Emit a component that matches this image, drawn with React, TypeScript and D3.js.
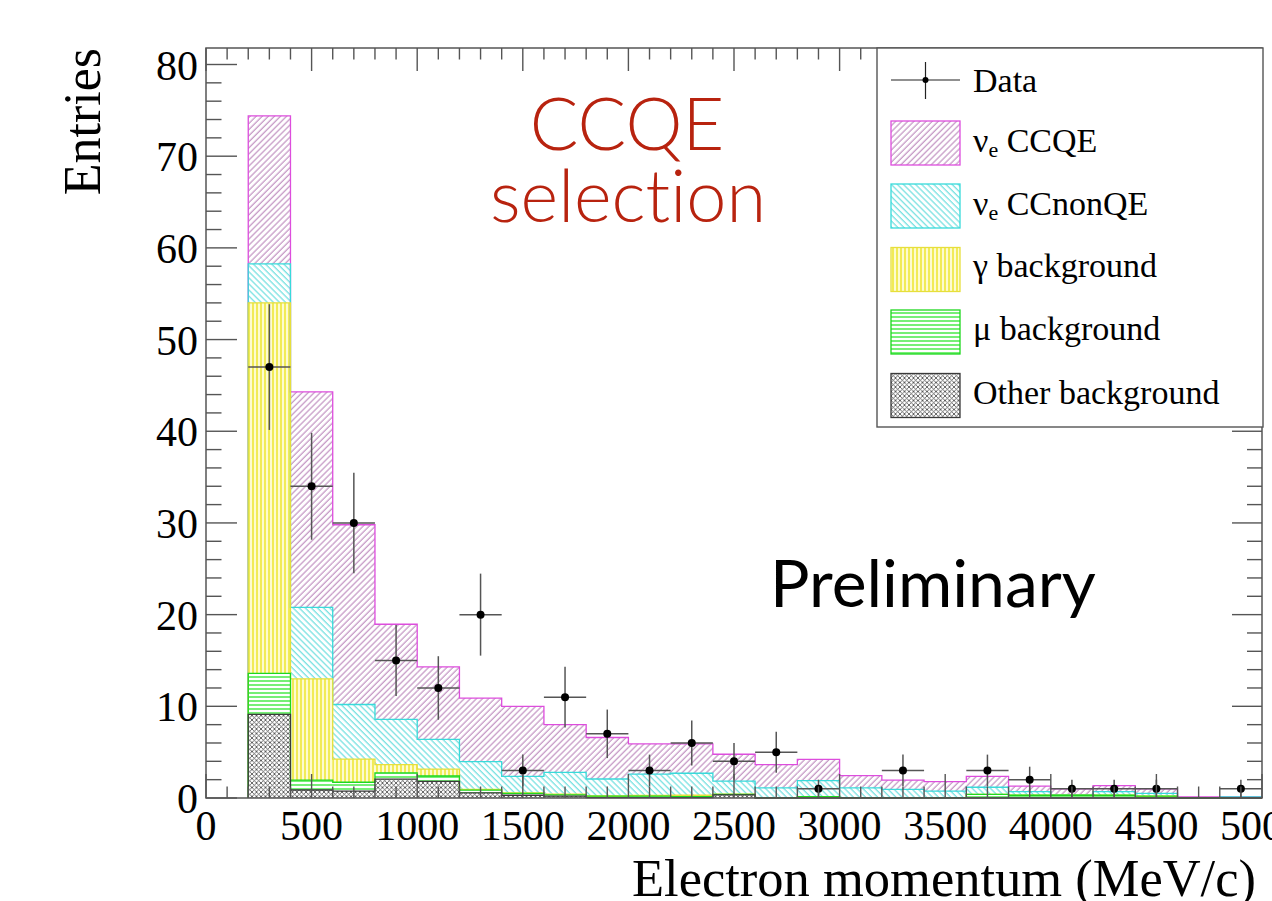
import React from "react";
import * as d3 from "d3";

// Electron momentum bins (lower edges, MeV/c), 200 MeV/c wide
const binLow = [200, 400, 600, 800, 1000, 1200, 1400, 1600, 1800, 2000, 2200, 2400,
  2600, 2800, 3000, 3200, 3400, 3600, 3800, 4000, 4200, 4400, 4600, 4800];
const binWidth = 200;

// Observed events per bin
const dataCounts = [47, 34, 30, 15, 12, 20, 3, 11, 7, 3, 6, 4, 5, 1, 0, 3, 0, 3, 2, 1, 1, 1, 0, 1];

// MC expectation per component (stacked bottom to top)
const otherBkg = [9.13, 0.87, 0.76, 2.05, 1.82, 0.55, 0.3, 0.2, 0.05, 0.05, 0.05, 0.35,
  0, 0, 0, 0, 0, 0, 0, 0, 0, 0, 0, 0];
const muBkg = [4.47, 1.08, 0.96, 0.7, 0.58, 0.3, 0.2, 0.15, 0.15, 0.15, 0.1, 0.05,
  0.05, 0.15, 0.05, 0.05, 0.05, 0.4, 0.3, 0.3, 0.3, 0.2, 0, 0];
const gammaBkg = [40.4, 11.05, 2.53, 0.9, 0.76, 0.1, 0.05, 0.07, 0.02, 0.08, 0.15, 0.02,
  0, 0, 0, 0, 0, 0, 0, 0, 0, 0, 0, 0];
const nueCCnonQE = [4.25, 7.8, 5.95, 4.93, 3.24, 3.01, 1.8, 2.38, 1.85, 2.32, 2.4, 1.43,
  1.05, 1.75, 1.05, 0.9, 0.71, 0.77, 0.39, 0.05, 0.39, 0.3, 0, 0.12];
const nueCCQE = [16.15, 23.5, 19.6, 10.37, 7.9, 6.94, 7.65, 5.2, 4.53, 3.3, 3.2, 2.92,
  2.55, 2.32, 1.35, 1.0, 1.02, 1.18, 0.61, 0.65, 0.66, 0.5, 0.12, 0];

const W = 1272;
const H = 901;
const X0 = 206, X1 = 1262, Y0 = 798, Y1 = 48;

const serif = "'Liberation Serif', 'Times New Roman', serif";
const sans = "Lato, 'Open Sans', sans-serif";

const layers = [
  { key: "other", values: otherBkg, fill: "url(#patOther)", stroke: "#3a3a3a" },
  { key: "mu", values: muBkg, fill: "url(#patMu)", stroke: "#1ed81e" },
  { key: "gamma", values: gammaBkg, fill: "url(#patGamma)", stroke: "#e6df3c" },
  { key: "nonqe", values: nueCCnonQE, fill: "url(#patNonQE)", stroke: "#38dada" },
  { key: "ccqe", values: nueCCQE, fill: "url(#patCCQE)", stroke: "#dd4ddd" },
];

export default function App() {
  const x = d3.scaleLinear().domain([0, 5000]).range([X0, X1]);
  const y = d3.scaleLinear().domain([0, 81.8]).range([Y0, Y1]);

  // cumulative stack
  const cum: number[][] = [];
  layers.forEach((l, k) => {
    cum.push(l.values.map((v, i) => (k === 0 ? 0 : cum[k - 1][i]) + v));
  });

  const stepPath = (tops: number[]) => {
    let p = `M${x(binLow[0])},${y(0)}`;
    tops.forEach((t, i) => {
      p += `L${x(binLow[i])},${y(t)}L${x(binLow[i] + binWidth)},${y(t)}`;
    });
    p += `L${x(binLow[binLow.length - 1] + binWidth)},${y(0)}`;
    return p;
  };

  const xMajor = d3.range(0, 5001, 500);
  const xMinor = d3.range(0, 5001, 100).filter((v) => v % 500 !== 0);
  const yMajor = d3.range(0, 81, 10);
  const yMinor = d3.range(0, 81.8, 2).filter((v) => v % 10 !== 0);

  const axisColor = "#555";

  // legend geometry
  const legX = 877, legY = 48, legW = 386, legH = 379;
  const boxX = 891, boxW = 69, boxH = 44;
  const rowBoxTop = [121, 184, 247.5, 310, 373.5];
  const legendRows = [
    { fill: "url(#patCCQE)", stroke: "#dd4ddd", label: "CCQE", nu: true, baseline: 152 },
    { fill: "url(#patNonQE)", stroke: "#38dada", label: "CCnonQE", nu: true, baseline: 215 },
    { fill: "url(#patGamma)", stroke: "#e6df3c", label: "γ background", nu: false, baseline: 277 },
    { fill: "url(#patMu)", stroke: "#1ed81e", label: "μ background", nu: false, baseline: 340 },
    { fill: "url(#patOther)", stroke: "#3a3a3a", label: "Other background", nu: false, baseline: 403.5 },
  ];

  const noLig = { fontVariantLigatures: "none" as const, fontFeatureSettings: "'liga' 0" };

  return (
    <svg width={W} height={H} style={{ position: "absolute", left: 0, top: 0, background: "#fff" }}>
      <defs>
        <pattern id="patCCQE" width="4.3" height="4.3" patternUnits="userSpaceOnUse" patternTransform="rotate(45)">
          <line x1="1" y1="0" x2="1" y2="4.3" stroke="#b57cb5" strokeWidth="1" />
        </pattern>
        <pattern id="patNonQE" width="4.3" height="4.3" patternUnits="userSpaceOnUse" patternTransform="rotate(-45)">
          <line x1="1" y1="0" x2="1" y2="4.3" stroke="#4fd8d8" strokeWidth="1" />
        </pattern>
        <pattern id="patGamma" width="4" height="4" patternUnits="userSpaceOnUse">
          <rect width="4" height="4" fill="#fdfbd0" />
          <line x1="1" y1="0" x2="1" y2="4" stroke="#f0ea4a" strokeWidth="1.8" />
        </pattern>
        <pattern id="patMu" width="4" height="4" patternUnits="userSpaceOnUse">
          <line x1="0" y1="1" x2="4" y2="1" stroke="#2be62b" strokeWidth="1.3" />
        </pattern>
        <pattern id="patOther" width="4.5" height="4.5" patternUnits="userSpaceOnUse">
          <path d="M0,0L4.5,4.5M4.5,0L0,4.5" stroke="#444" strokeWidth="0.8" fill="none" />
        </pattern>
      </defs>

      <rect width={W} height={H} fill="#fff" />

      {/* stacked MC fills */}
      {layers.map((l, k) =>
        l.values.map((v, i) => {
          const bottom = k === 0 ? 0 : cum[k - 1][i];
          const top = cum[k][i];
          if (top - bottom <= 0) return null;
          return (
            <rect
              key={`${l.key}-${i}`}
              x={x(binLow[i])}
              y={y(top)}
              width={x(binLow[i] + binWidth) - x(binLow[i])}
              height={y(bottom) - y(top)}
              fill={l.fill}
            />
          );
        })
      )}

      {/* stack outlines, total first so lower layers sit on top */}
      {layers.map((l, k) => ({ l, k })).reverse().map(({ l, k }) => (
        <path key={`o-${l.key}`} d={stepPath(cum[k])} fill="none" stroke={l.stroke} strokeWidth={1.3} />
      ))}

      {/* data with Poisson errors */}
      {dataCounts.map((n, i) => {
        if (n <= 0) return null;
        const cx = x(binLow[i] + binWidth / 2);
        const e = Math.sqrt(n);
        return (
          <g key={`d-${i}`}>
            <line x1={x(binLow[i])} x2={x(binLow[i] + binWidth)} y1={y(n)} y2={y(n)} stroke="#555" strokeWidth={1.5} />
            <line x1={cx} x2={cx} y1={y(n + e)} y2={y(n - e)} stroke="#555" strokeWidth={1.5} />
            <circle cx={cx} cy={y(n)} r={4} fill="#000" />
          </g>
        );
      })}

      {/* frame */}
      <rect x={X0} y={Y1} width={X1 - X0} height={Y0 - Y1} fill="none" stroke={axisColor} strokeWidth={1.5} />

      {/* x ticks, bottom and top */}
      {xMajor.map((v) => (
        <g key={`xM-${v}`}>
          <line x1={x(v)} x2={x(v)} y1={Y0} y2={Y0 - 24} stroke={axisColor} strokeWidth={1.4} />
          <line x1={x(v)} x2={x(v)} y1={Y1} y2={Y1 + 23} stroke={axisColor} strokeWidth={1.4} />
        </g>
      ))}
      {xMinor.map((v) => (
        <g key={`xm-${v}`}>
          <line x1={x(v)} x2={x(v)} y1={Y0} y2={Y0 - 11.5} stroke={axisColor} strokeWidth={1.4} />
          <line x1={x(v)} x2={x(v)} y1={Y1} y2={Y1 + 11.5} stroke={axisColor} strokeWidth={1.4} />
        </g>
      ))}

      {/* y ticks, left and right */}
      {yMajor.map((v) => (
        <g key={`yM-${v}`}>
          <line x1={X0} x2={X0 + 31} y1={y(v)} y2={y(v)} stroke={axisColor} strokeWidth={1.4} />
          <line x1={X1} x2={X1 - 30} y1={y(v)} y2={y(v)} stroke={axisColor} strokeWidth={1.4} />
        </g>
      ))}
      {yMinor.map((v) => (
        <g key={`ym-${v}`}>
          <line x1={X0} x2={X0 + 15.5} y1={y(v)} y2={y(v)} stroke={axisColor} strokeWidth={1.4} />
          <line x1={X1} x2={X1 - 15} y1={y(v)} y2={y(v)} stroke={axisColor} strokeWidth={1.4} />
        </g>
      ))}

      {/* tick labels */}
      {xMajor.map((v) => (
        <text key={`xl-${v}`} x={x(v)} y={840} textAnchor="middle" fontFamily={serif} fontSize={42} fill="#000">
          {v}
        </text>
      ))}
      {yMajor.map((v) => (
        <text key={`yl-${v}`} x={198} y={y(v) + 15} textAnchor="end" fontFamily={serif} fontSize={42} fill="#000">
          {v}
        </text>
      ))}

      {/* axis titles */}
      <text x={1256} y={896} textAnchor="end" fontFamily={serif} fontSize={52.5} fill="#000">
        Electron momentum (MeV/c)
      </text>
      <text
        transform={`translate(100,${Y1}) rotate(-90)`}
        textAnchor="end"
        fontFamily={serif}
        fontSize={52}
        fill="#000"
      >
        Entries
      </text>

      {/* legend */}
      <rect x={legX} y={legY} width={legW} height={legH} fill="#fff" stroke="#555" strokeWidth={1.4} />
      <line x1={boxX} x2={boxX + boxW} y1={80} y2={80} stroke="#222" strokeWidth={1.2} />
      <line x1={boxX + boxW / 2} x2={boxX + boxW / 2} y1={62} y2={99} stroke="#222" strokeWidth={1.2} />
      <circle cx={boxX + boxW / 2} cy={80} r={3} fill="#000" />
      <text x={973} y={91.5} fontFamily={serif} fontSize={34} fill="#000">Data</text>
      {legendRows.map((r, i) => (
        <g key={`leg-${i}`}>
          <rect x={boxX} y={rowBoxTop[i]} width={boxW} height={boxH} fill={r.fill} stroke={r.stroke} strokeWidth={1.3} />
          <text x={973} y={r.baseline} fontFamily={serif} fontSize={34} fill="#000">
            {r.nu ? (
              <>
                ν
                <tspan fontSize={22} dy={5}>e</tspan>
                <tspan dy={-5}>{" " + r.label}</tspan>
              </>
            ) : (
              r.label
            )}
          </text>
        </g>
      ))}

      {/* annotations */}
      <text x={627} y={150} textAnchor="middle" fontFamily={sans} fontWeight={300} fontSize={72} fill="#b8230f" style={noLig}>CCQE</text>
      <text x={628} y={222} textAnchor="middle" fontFamily={sans} fontWeight={300} fontSize={72} fill="#b8230f" style={noLig}>selection</text>
      <text x={770} y={607} fontFamily={sans} fontSize={66} fill="#000" style={noLig}>Preliminary</text>
    </svg>
  );
}
